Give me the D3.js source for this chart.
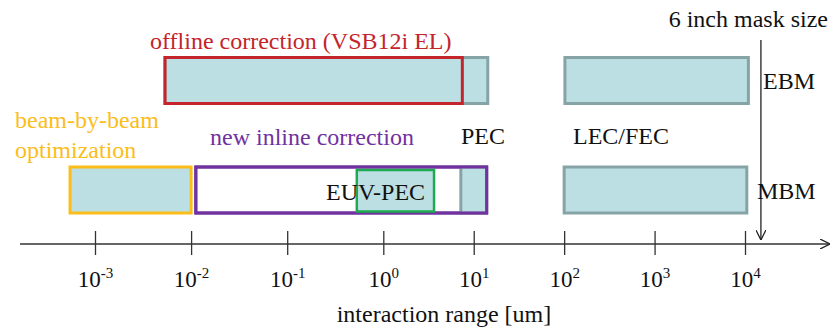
<!DOCTYPE html>
<html><head><meta charset="utf-8">
<script src="https://cdn.jsdelivr.net/npm/d3@7"></script>
<style>html,body{margin:0;padding:0;background:#fff;}svg{display:block;}</style>
</head><body>
<svg id="c" width="830" height="330"></svg>
<script>
// ---- data ----
const tickExponents = [-3, -2, -1, 0, 1, 2, 3, 4];
const rows = ["EBM", "MBM"];
// range boxes
const boxStart = [5.35e-3, 5.35e-3, 102, 5.5e-4, 0.0112, 0.53, 7.2, 100];
const boxEnd   = [14.3,    7.48,    10900, 0.01, 13.9,   3.64, 13.9, 10470];
const boxRow   = ["EBM", "EBM", "EBM", "MBM", "MBM", "MBM", "MBM", "MBM"];
const boxKind  = ["pec", "offline", "lec", "bbb", "inline", "euv", "pec", "lec"];
const maskSize = 1.5e4;

const FONT = "Liberation Serif, Times New Roman, serif";
const fills   = {pec:"#bcdfe3", offline:"none", lec:"#bcdfe3", bbb:"#bcdfe3", inline:"#ffffff", euv:"#bcdfe3"};
const strokes = {pec:"#86a3a6", offline:"#c4242b", lec:"#86a3a6", bbb:"#fbbd19", inline:"#7132a0", euv:"#1daa50"};
const order   = ["inline", "pec", "lec", "bbb", "offline", "euv"];

const svg = d3.select("#c");
const x = d3.scaleLog().domain([1e-3, 1, 1e4]).range([95, 383.3, 745]);
const y = d3.scaleBand().domain(rows).range([57.5, 213]).paddingInner(0.58);
const axisY = 244;

const defs = svg.append("defs");
defs.append("marker").attr("id","arr").attr("viewBox","0 0 10 10").attr("refX",10).attr("refY",5)
  .attr("markerWidth",10).attr("markerHeight",10).attr("markerUnits","userSpaceOnUse").attr("orient","auto")
  .append("path").attr("d","M0,0 L10,5 L0,10").attr("fill","none").attr("stroke","#222").attr("stroke-width",1.3);

// boxes
const boxes = boxStart.map((s,i)=>({s, e:boxEnd[i], row:boxRow[i], kind:boxKind[i]}));
boxes.sort((a,b)=>order.indexOf(a.kind)-order.indexOf(b.kind));
const gB = svg.append("g");
gB.selectAll("rect.b").data(boxes.filter(d=>d.kind!=="euv")).join("rect").attr("class","b")
  .attr("x", d=>x(d.s)).attr("width", d=>x(d.e)-x(d.s))
  .attr("y", d=>y(d.row)).attr("height", y.bandwidth())
  .attr("fill", d=>fills[d.kind]).attr("stroke", d=>strokes[d.kind])
  .attr("stroke-width", 3);
const inl = boxes.find(d=>d.kind==="inline");
gB.append("rect").attr("x", x(inl.s)).attr("width", x(inl.e)-x(inl.s))
  .attr("y", y(inl.row)).attr("height", y.bandwidth())
  .attr("fill","none").attr("stroke", strokes.inline).attr("stroke-width",3);
gB.selectAll("rect.e").data(boxes.filter(d=>d.kind==="euv")).join("rect").attr("class","e")
  .attr("x", d=>x(d.s)).attr("width", d=>x(d.e)-x(d.s))
  .attr("y", d=>y(d.row)+3).attr("height", y.bandwidth()-4.5)
  .attr("fill", d=>fills[d.kind]).attr("stroke", d=>strokes[d.kind])
  .attr("stroke-width", 2.5);

// axis
svg.append("line").attr("x1",20).attr("x2",830).attr("y1",axisY).attr("y2",axisY)
  .attr("stroke","#333").attr("stroke-width",1.3).attr("marker-end","url(#arr)");
const ax = d3.axisBottom(x).tickValues(tickExponents.map(e=>Math.pow(10,e))).tickSizeInner(0).tickSizeOuter(0).tickFormat("");
const axg = svg.append("g").attr("transform",`translate(0,${axisY})`).call(ax);
axg.select(".domain").remove();
axg.selectAll(".tick line").attr("y1",-13).attr("y2",11).attr("stroke","#333").attr("stroke-width",1.3);
const lab = axg.selectAll(".tick").append("text").attr("fill","#111").attr("y",43)
  .attr("text-anchor","middle").attr("font-size",23).attr("font-family",FONT);
lab.append("tspan").text("10");
lab.append("tspan").attr("dy",-9).attr("font-size",15).text(d=>{const e=Math.round(Math.log10(d));return e<0?"-"+(-e):String(e);});

function txt(xp, yp, s, color, anchor){
  return svg.append("text").attr("x",xp).attr("y",yp).attr("font-size",24).attr("font-family",FONT)
    .attr("fill",color).attr("text-anchor",anchor||"start").text(s);
}
txt(444, 322, "interaction range [um]", "#111", "middle");

svg.append("line").attr("x1",x(maskSize)).attr("x2",x(maskSize)).attr("y1",40).attr("y2",240)
  .attr("stroke","#222").attr("stroke-width",1.3).attr("marker-end","url(#arr)");
txt(828, 27, "6 inch mask size", "#111", "end");

txt(763, y("EBM")+y.bandwidth()/2+9, "EBM", "#111");
txt(757, y("MBM")+y.bandwidth()/2+9, "MBM", "#111");

txt(150, 49, "offline correction (VSB12i EL)", strokes.offline);
txt(15, 128, "beam-by-beam", strokes.bbb);
txt(15, 158, "optimization", strokes.bbb);
txt(210, 145, "new inline correction", strokes.inline);
txt(461, 144, "PEC", "#111");
txt(573, 144, "LEC/FEC", "#111");
// EUV-PEC label drawn over the boxes
txt(326, 200, "EUV-PEC", "#111");
</script>
</body></html>
